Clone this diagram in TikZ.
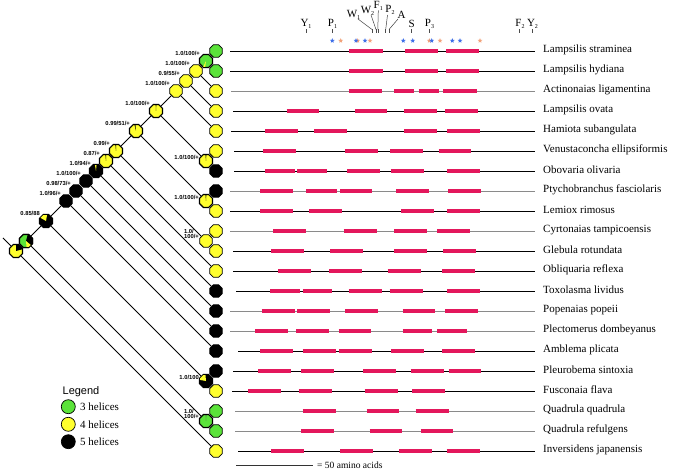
\documentclass[tikz,border=0pt]{standalone}
\usepackage{fontspec}
\setmainfont{Liberation Serif}
\newfontfamily\supfont{Liberation Sans}
\usetikzlibrary{shapes.geometric,backgrounds}
\definecolor{cgreen}{HTML}{5BE33A}
\definecolor{cyellow}{HTML}{FFFF2E}
\definecolor{cpink}{HTML}{E3175C}
\definecolor{cblue}{HTML}{3F6FE8}
\definecolor{corange}{HTML}{F2A27A}
\definecolor{cgrayline}{HTML}{8A8A8A}
\newcommand\smallsub[1]{\raisebox{-0.25ex}{\fontsize{6}{6}\selectfont #1}}
\tikzset{
  oct/.style={regular polygon, regular polygon sides=8, minimum size=13.5pt, inner sep=0pt, draw=black, line width=0.8pt},
  gr/.style={oct, fill=cgreen},
  ye/.style={oct, fill=cyellow},
  bk/.style={oct, fill=black},
  branch/.style={line width=1pt, black},
  suplab/.style={font=\supfont\bfseries\fontsize{5.8}{6}\selectfont, inner sep=0pt, anchor=east},
  suplab2/.style={font=\supfont\bfseries\fontsize{5.8}{5.4}\selectfont, inner sep=0pt, anchor=east, align=left},
  taxon/.style={font=\fontsize{11}{13}\selectfont, inner sep=0pt, anchor=west},
  seqline/.style={line width=0.95pt},
  helix/.style={line width=4.4pt, cpink},
  toplab/.style={font=\fontsize{11}{12}\selectfont, inner sep=0pt},
  ticky/.style={line width=0.6pt, black!70},
  leader/.style={line width=0.5pt, black!75},
  starb/.style={star, star points=5, star point ratio=2.2, minimum size=5pt, inner sep=0pt, fill=cblue},
  staro/.style={star, star points=5, star point ratio=2.2, minimum size=5pt, inner sep=0pt, fill=corange},
  legc/.style={circle, draw=black, line width=0.7pt, minimum size=14pt, inner sep=0pt},
  legt/.style={font=\fontsize{11}{13}\selectfont, inner sep=0pt, anchor=west}
}
\newcommand\nodeslice[4]{%
  \begin{scope}
    \clip (#1.corner 1) -- (#1.corner 2) -- (#1.corner 3) -- (#1.corner 4) -- (#1.corner 5) -- (#1.corner 6) -- (#1.corner 7) -- (#1.corner 8) -- cycle;
    \fill[#2] (#1.center) -- ++(#3:9pt) arc[start angle=#3, end angle=#4, radius=9pt] -- cycle;
  \end{scope}
  \draw[line width=0.8pt] (#1.corner 1) -- (#1.corner 2) -- (#1.corner 3) -- (#1.corner 4) -- (#1.corner 5) -- (#1.corner 6) -- (#1.corner 7) -- (#1.corner 8) -- cycle;
}
\begin{document}
\begin{tikzpicture}[x=1pt,y=-1pt]
\useasboundingbox (0,0) rectangle (685,470);

% ---------- taxa labels and sequence lines ----------
\foreach \i/\name/\st/\col in {
 0/Lampsilis straminea/230/black,
 1/Lampsilis hydiana/230/black,
 2/Actinonaias ligamentina/231/cgrayline,
 3/Lampsilis ovata/233/black,
 4/Hamiota subangulata/231/black,
 5/Venustaconcha ellipsiformis/234/black,
 6/Obovaria olivaria/234/black,
 7/Ptychobranchus fasciolaris/230/cgrayline,
 8/Lemiox rimosus/230/black,
 9/Cyrtonaias tampicoensis/230/cgrayline,
 10/Glebula rotundata/233/black,
 11/Obliquaria reflexa/233/black,
 12/Toxolasma lividus/236/black,
 13/Popenaias popeii/230/cgrayline,
 14/Plectomerus dombeyanus/230/cgrayline,
 15/Amblema plicata/238/black,
 16/Pleurobema sintoxia/233/black,
 17/Fusconaia flava/232/black,
 18/Quadrula quadrula/235/cgrayline,
 19/Quadrula refulgens/235/cgrayline,
 20/Inversidens japanensis/238/black}{
  \node[taxon] (lab\i) at (543,{50+20*\i}) {\name};
  \coordinate (s\i) at (\st,{51+20*\i});
  \draw[seqline,\col] (s\i) -- (535,{51+20*\i});
}

% ---------- helices ----------
\foreach \r/\bars in {
 0/{349.3/382.7,405/438,446/478.7},
 1/{349.3/382.7,405/438,446/478.7},
 2/{348.7/382,394.3/414.3,418.7/439,443.3/476.7},
 3/{286.7/319.3,355/387.3,404/437,445/477.7},
 4/{265/297.7,314/346.7,404/437,447/479.7},
 5/{262.7/295.7,345/377.7,390/422.7,438.7/471.3},
 6/{265/294.7,297.3/326.7,347/379.7,390.7/423.7,447/479.7},
 7/{260/293,306/337,340/371.7,396/429,448.3/481},
 8/{260/293,309/341.7,401/434,447/479.7},
 9/{273/305.7,343.7/376.7,394.3/427.3,437/469.7},
 10/{271.3/304,330.3/363.3,394/427,443.3/476},
 11/{278/311,329/361.7,387.7/420.7,442.3/475.3},
 12/{270/299.7,302.7/332.3,348.7/381.7,389.7/422.7,447/479.7},
 13/{261.7/294.7,297.3/330.3,345/378,402.7/435.3,445/477.7},
 14/{255.3/288,296/328.7,338.7/371.3,402.7/432.3,437/466.7},
 15/{260/293,302.7/335.7,339/371.7,391.3/424.3,442/475},
 16/{258.3/291.3,301/334,363.3/396.3,410.7/443.7,448.7/481.3},
 17/{248/281,298.7/331.7,364.7/397.7,412.3/445},
 18/{302.7/335.7,366.7/399.3,415.7/448.7},
 19/{301/334,369.7/402.3,420.7/453.3},
 20/{271.3/304,340/373,399/432,446.7/479.7}}{
  \foreach \a/\b in \bars {
    \draw[helix] (\a,{51+20*\r}) -- (\b,{51+20*\r});
  }
}

% ---------- top markers ----------
\node[toplab] (Y1) at (306,24) {Y\smallsub{1}};
\node[toplab] (P1) at (332.5,24) {P\smallsub{1}};
\node[toplab] (S)  at (411.7,24) {S};
\node[toplab] (P3) at (429.5,24) {P\smallsub{3}};
\node[toplab] (F2) at (520,24) {F\smallsub{2}};
\node[toplab] (Y2) at (532.5,24) {Y\smallsub{2}};
\node[toplab] (W1) at (353.5,15) {W\smallsub{1}};
\node[toplab] (W2) at (367.5,11) {W\smallsub{2}};
\node[toplab] (F1) at (378.3,6) {F\smallsub{1}};
\node[toplab] (P2) at (390,10) {P\smallsub{2}};
\node[toplab] (A)  at (401.7,15) {A};
\foreach \nm/\x in {Y1/306,P1/332,S/411.7,P3/428.8,F2/519.3,Y2/532.3,W1/372,W2/376,F1/377.8,P2/385.7,A/389}{
  \coordinate (k\nm) at (\x,29.5);
  \draw[ticky] (k\nm) -- ++(0,4);
}
\draw[leader] (358,19) -- (kW1);
\draw[leader] (371,15) -- (kW2);
\draw[leader] (F1.south) -- (kF1);
\draw[leader] (387.5,15) -- (kP2);
\draw[leader] (398,19) -- (kA);

% stars
\foreach \x [count=\k] in {340.7,357.7,370,429.3,440,480}{
  \node[staro] (so\k) at (\x,40.7) {};
}
\foreach \x [count=\k] in {332.3,356,365,403.3,412.7,431.7,452.3,460}{
  \node[starb] (sb\k) at (\x,40.7) {};
}

% ---------- tree tips ----------
\foreach \i/\c in {0/gr,1/gr,2/ye,3/ye,4/ye,5/ye,6/bk,7/bk,8/ye,9/ye,10/ye,11/ye,12/bk,13/bk,14/bk,15/bk,16/bk,17/ye,18/gr,19/gr,20/ye}{
  \node[\c] (t\i) at (216,{51+20*\i}) {};
}

% ---------- internal nodes ----------
\node[gr] (n01)   at (206,61) {};
\node[ye] (n02)   at (196,71) {};
\node[ye] (n03)   at (186,81) {};
\node[ye] (n04)   at (176,91) {};
\node[ye] (n56)   at (206,161) {};
\node[ye] (n06)   at (156,111) {};
\node[ye] (n78)   at (206,201) {};
\node[ye] (n08)   at (136,131) {};
\node[ye] (n910)  at (206,241) {};
\node[ye] (n010)  at (116,151) {};
\node[ye] (n011)  at (106,161) {};
\node[bk] (n012)  at (96,171) {};
\node[bk] (n013)  at (86,181) {};
\node[bk] (n014)  at (76,191) {};
\node[bk] (n015)  at (66,201) {};
\node[bk] (n1617) at (206,381) {};
\node[bk] (n017)  at (46,221) {};
\node[gr] (n1819) at (206,421) {};
\node[gr] (n019)  at (26,241) {};
\node[ye] (n020)  at (16,251) {};
\coordinate (rootend) at (3,238);

\nodeslice{n01}{cyellow}{245}{262}
\nodeslice{n06}{black}{87}{93}
\nodeslice{n08}{black}{95}{104}
\nodeslice{n010}{black}{88}{96}
\nodeslice{n011}{black}{88}{96}
\nodeslice{n012}{cyellow}{85}{100}
\nodeslice{n56}{black}{87}{95}
\nodeslice{n78}{black}{87}{95}
\nodeslice{n1617}{cyellow}{95}{170}
\nodeslice{n017}{cyellow}{80}{150}
\nodeslice{n1819}{black!70}{87}{93}
\nodeslice{n019}{black}{-40}{75}
\nodeslice{n019}{cyellow}{-85}{-40}
\nodeslice{n020}{black}{15}{90}

% ---------- branches ----------
\begin{scope}[on background layer]
\draw[branch] (n01) -- (t0);   \draw[branch] (n01) -- (t1);
\draw[branch] (n02) -- (n01);  \draw[branch] (n02) -- (t2);
\draw[branch] (n03) -- (n02);  \draw[branch] (n03) -- (t3);
\draw[branch] (n04) -- (n03);  \draw[branch] (n04) -- (t4);
\draw[branch] (n56) -- (t5);   \draw[branch] (n56) -- (t6);
\draw[branch] (n06) -- (n04);  \draw[branch] (n06) -- (n56);
\draw[branch] (n78) -- (t7);   \draw[branch] (n78) -- (t8);
\draw[branch] (n08) -- (n06);  \draw[branch] (n08) -- (n78);
\draw[branch] (n910) -- (t9);  \draw[branch] (n910) -- (t10);
\draw[branch] (n010) -- (n08); \draw[branch] (n010) -- (n910);
\draw[branch] (n011) -- (n010); \draw[branch] (n011) -- (t11);
\draw[branch] (n012) -- (n011); \draw[branch] (n012) -- (t12);
\draw[branch] (n013) -- (n012); \draw[branch] (n013) -- (t13);
\draw[branch] (n014) -- (n013); \draw[branch] (n014) -- (t14);
\draw[branch] (n015) -- (n014); \draw[branch] (n015) -- (t15);
\draw[branch] (n1617) -- (t16); \draw[branch] (n1617) -- (t17);
\draw[branch] (n017) -- (n015); \draw[branch] (n017) -- (n1617);
\draw[branch] (n1819) -- (t18); \draw[branch] (n1819) -- (t19);
\draw[branch] (n019) -- (n017); \draw[branch] (n019) -- (n1819);
\draw[branch] (n020) -- (n019); \draw[branch] (n020) -- (t20);
\draw[branch] (n020) -- (rootend);
\end{scope}

% ---------- support values ----------
\node[suplab] (l01)  at (200,53.5) {1.0/100/+};
\node[suplab] (l02)  at (190,63.5) {1.0/100/+};
\node[suplab] (l03)  at (180,73.5) {0.9/55/+};
\node[suplab] (l04)  at (170,83.5) {1.0/100/+};
\node[suplab] (l06)  at (150,103.5) {1.0/100/+};
\node[suplab] (l08)  at (130,123.5) {0.99/51/+};
\node[suplab] (l010) at (110,143.5) {0.99/+};
\node[suplab] (l011) at (100,153.5) {0.87/+};
\node[suplab] (l012) at (91,163.5) {1.0/94/+};
\node[suplab] (l013) at (81,173.5) {1.0/100/+};
\node[suplab] (l014) at (71,183.5) {0.98/73/+};
\node[suplab] (l015) at (61,193.5) {1.0/96/+};
\node[suplab] (l017) at (40,213.5) {0.85/88};
\node[suplab] (l56)  at (199,157) {1.0/100/+};
\node[suplab] (l78)  at (199,197) {1.0/100/+};
\node[suplab2] (l910) at (199,234) {1.0/\\100/+};
\node[suplab] (l1617) at (199,377) {1.0/100};
\node[suplab2] (l1819) at (199,414) {1.0/\\100/+};

% ---------- legend ----------
\node[font=\supfont\fontsize{11}{13}\selectfont, inner sep=0pt] (legtitle) at (81,391.5) {Legend};
\node[legc, fill=cgreen]  (lg3) at (68.3,406.7) {};
\node[legc, fill=cyellow] (lg4) at (68.3,424.3) {};
\node[legc, fill=black]   (lg5) at (68.3,441.7) {};
\node[legt] (lt3) at (80,406.7) {3 helices};
\node[legt] (lt4) at (80,424.3) {4 helices};
\node[legt] (lt5) at (80,441.7) {5 helices};

% ---------- scale bar ----------
\node[font=\fontsize{9.5}{11}\selectfont, inner sep=0pt, anchor=west] (sbtext) at (317,465) {= 50 amino acids};
\coordinate (sbstart) at (236,465);
\draw[line width=0.8pt, black!80] (sbstart) -- (313,465);
\end{tikzpicture}
\end{document}
